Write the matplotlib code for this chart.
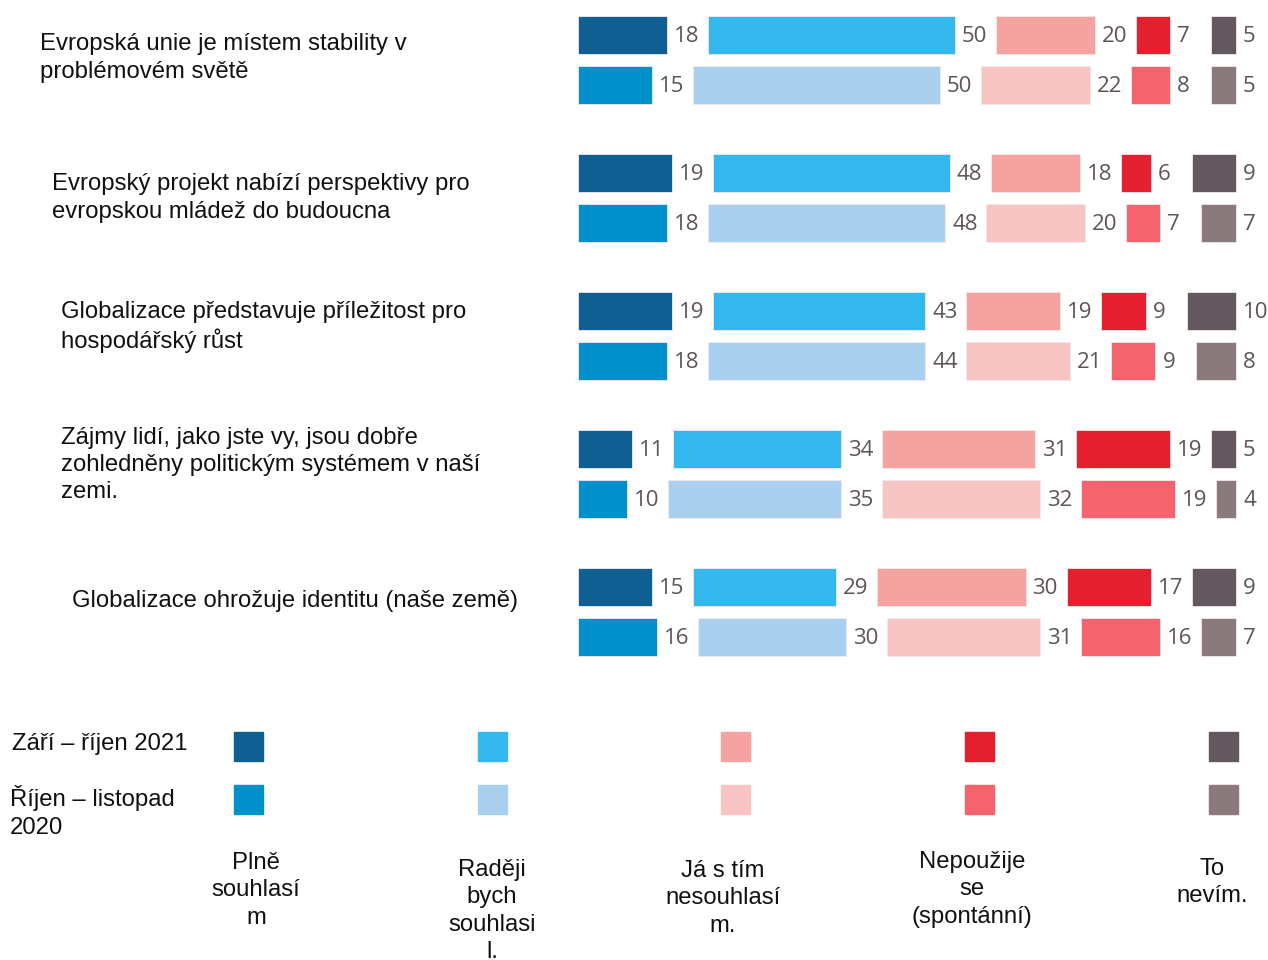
import matplotlib
matplotlib.use("Agg")
import matplotlib.pyplot as plt
from matplotlib.patches import Rectangle

# otázky
otazky = [
    "Evropská unie je místem stability v\nproblémovém světě",
    "Evropský projekt nabízí perspektivy pro\nevropskou mládež do budoucna",
    "Globalizace představuje příležitost pro\nhospodářský růst",
    "Zájmy lidí, jako jste vy, jsou dobře\nzohledněny politickým systémem v naší\nzemi.",
    "Globalizace ohrožuje identitu (naše země)",
]
# hodnoty: Plně souhlasím, Raději souhlasím, Nesouhlasím, Nepoužije se, Nevím
hodnoty_2021 = [
    [18, 50, 20, 7, 5],
    [19, 48, 18, 6, 9],
    [19, 43, 19, 9, 10],
    [11, 34, 31, 19, 5],
    [15, 29, 30, 17, 9],
]
hodnoty_2020 = [
    [15, 50, 22, 8, 5],
    [18, 48, 20, 7, 7],
    [18, 44, 21, 9, 8],
    [10, 35, 32, 19, 4],
    [16, 30, 31, 16, 7],
]
obdobi = ["Září – říjen 2021", "Říjen – listopad\n2020"]
kategorie = ["Plně\nsouhlasí\nm", "Raději\nbych\nsouhlasi\nl.", "Já s tím\nnesouhlasí\nm.",
             "Nepoužije\nse\n(spontánní)", "To\nnevím."]

barvy_2021 = ['#0f5f92', '#35b8ee', '#f5a3a0', '#e4202f', '#635760']
barvy_2020 = ['#0090cc', '#a9d1ef', '#f6c4c2', '#f5646e', '#8a7a7c']

W, H = 1268, 960
fig = plt.figure(figsize=(W / 100, H / 100), dpi=100)

px_na_jednotku = 4.94
mezera = 41 / px_na_jednotku
posun_popisku = 7 / px_na_jednotku

# osa pro pruhy (v pixelech: x 578..1268, y 0..690)
ax = fig.add_axes([578 / W, 1 - 690 / H, (W - 578) / W, 690 / H])
ax.set_xlim(0, (W - 578) / px_na_jednotku)
ax.set_ylim(4.565, -0.435)
ax.axis('off')

def kresli(radky, barvy, posun):
    for i, radek in enumerate(radky):
        y = i + posun
        left = 0
        for v, c in zip(radek, barvy):
            ax.barh(y, v, left=left, height=0.275, color=c, edgecolor='#f4e8ec', linewidth=0.6)
            ax.text(left + v + posun_popisku, y + 0.01, str(v), va='center', ha='left',
                    fontsize=16, color='#5e5459', family=['Open Sans', 'DejaVu Sans'])
            left += v + mezera

kresli(hodnoty_2021, barvy_2021, -0.181)
kresli(hodnoty_2020, barvy_2020, 0.181)

pismo = ['Liberation Sans', 'DejaVu Sans']
vel = 17.2
rozestup = 1.32

# popisky otázek
pozice_otazek = [(40, 58), (52, 198), (61, 327), (61, 465), (72, 601)]
for txt, (x, y) in zip(otazky, pozice_otazek):
    fig.text(x / W, 1 - y / H, txt, ha='left', va='center', fontsize=vel,
             family=pismo, color='#111111', linespacing=rozestup)

# legenda
fig.text(12 / W, 1 - 744 / H, obdobi[0], ha='left', va='center', fontsize=vel,
         family=pismo, color='#111111')
fig.text(10 / W, 1 - 812 / H, obdobi[1], ha='left', va='center', fontsize=vel,
         family=pismo, color='#111111', linespacing=rozestup)

leg_x = [234, 478, 721, 965, 1209]
text_x = [256, 492, 723, 972, 1212]
text_top = [852, 859, 860, 851, 858]
for j in range(5):
    for yy, barvy in [(732, barvy_2021), (785, barvy_2020)]:
        fig.add_artist(Rectangle((leg_x[j] / W, 1 - (yy + 29) / H), 29 / W, 29 / H,
                                 transform=fig.transFigure, color=barvy[j]))
    fig.text(text_x[j] / W, 1 - text_top[j] / H, kategorie[j], ha='center', va='top',
             fontsize=vel, family=pismo, color='#111111', linespacing=rozestup)

fig.savefig("out.png", dpi=100)
